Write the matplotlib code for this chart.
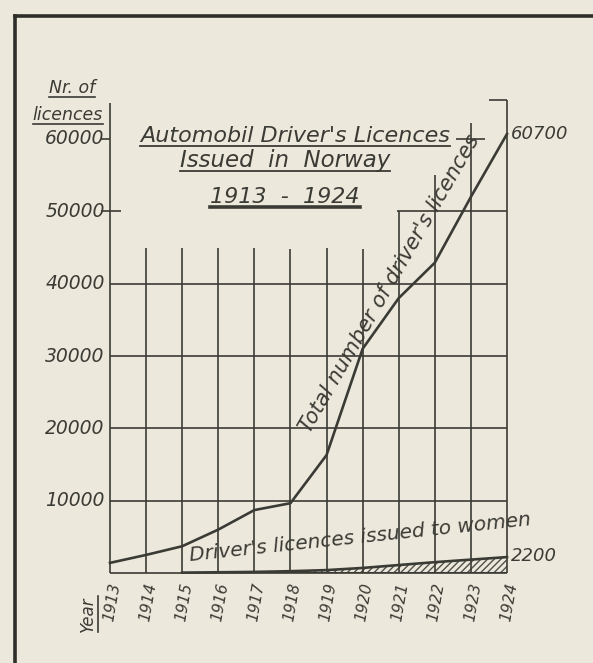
import matplotlib
matplotlib.use('Agg')
import matplotlib.pyplot as plt
from matplotlib.lines import Line2D
import numpy as np

# ---------- data ----------
years = [1913, 1914, 1915, 1916, 1917, 1918, 1919, 1920, 1921, 1922, 1923, 1924]
total = [1400, 2500, 3700, 6000, 8700, 9650, 16300, 31000, 38000, 42900, 52000, 60700]
women_years = [1915, 1916, 1917, 1918, 1919, 1920, 1921, 1922, 1923, 1924]
women = [50, 100, 150, 250, 400, 700, 1100, 1500, 1850, 2200]
ytick_vals = [10000, 20000, 30000, 40000, 50000, 60000]
ytick_labels = ['10000', '20000', '30000', '40000', '50000', '60000']

PAPER = '#ede8dc'
INK = '#3b3b35'
W, H = 593, 663

fig = plt.figure(figsize=(W / 100, H / 100), dpi=100, facecolor=PAPER)
# axes: 1913 -> x=110px, 1924 -> x=507px, 0 -> y=573px, 60000 -> y=139px
ax = fig.add_axes([110 / W, (H - 573) / H, 397 / W, 434 / H])
ax.set_xlim(1913, 1924)
ax.set_ylim(0, 60000)
ax.set_facecolor('none')
for s in ax.spines.values():
    s.set_visible(False)
ax.set_xticks([])
ax.set_yticks([])

kw = dict(color=INK, lw=1.2, clip_on=False, solid_capstyle='butt')

########## GRID ##########
for v in ytick_vals[:4]:
    ax.plot([1913, 1924], [v, v], **kw)
ax.plot([1920.95, 1924], [50000, 50000], **kw)
ax.plot([1922.6, 1923.4], [60000, 60000], **kw)
ax.plot([1912.75, 1913.3], [50000, 50000], **kw)
ax.plot([1912.75, 1913.0], [60000, 60000], **kw)
ax.plot([1913, 1924], [0, 0], **kw)
ax.plot([1913, 1913], [0, 65000], **kw)
tops = {1914: 45000, 1915: 45000, 1916: 45000, 1917: 45000, 1918: 44800,
        1919: 45000, 1920: 44800, 1921: 50000, 1922: 55000, 1923: 62200, 1924: 65400}
for yr, t in tops.items():
    ax.plot([yr, yr], [0, t], **kw)
ax.plot([1923.5, 1924], [65400, 65400], **kw)

########## SERIES ##########
ax.plot(years, total, color=INK, lw=1.9, clip_on=False)
ax.fill_between(women_years, 0, women, facecolor='none', edgecolor='#4f4f49',
                hatch='/////', linewidth=0)
ax.plot(women_years, women, color=INK, lw=1.9, clip_on=False)
ax.plot([1915, 1924], [0, 0], color=INK, lw=2.2)

########## TEXT ##########
tf = dict(color=INK, fontstyle='italic', family='DejaVu Sans')
for v, lab in zip(ytick_vals, ytick_labels):
    ax.text(1912.85, v, lab, ha='right', va='center', fontsize=13.5, **tf)
ax.text(1924.12, 60700, '60700', ha='left', va='center', fontsize=13, **tf)
ax.text(1924.12, 2300, '2200', ha='left', va='center', fontsize=13, **tf)

for yr in years:
    ax.text(yr + 0.05, -1200, str(yr), rotation=80, ha='center', va='top',
            fontsize=11, **tf)

ax.text(1920.75, 40000, "Total number of driver's licences", rotation=60,
        ha='center', va='center', fontsize=15, **tf)
ax.text(1919.93, 4950, "Driver's licences issued to women", rotation=6,
        ha='center', va='center', fontsize=14.5, **tf)

ul_texts = []
ul_texts.append((fig.text(295 / W, 1 - 142 / H, "Automobil Driver's Licences",
                          ha='center', va='baseline', fontsize=16, **tf), 1.3))
ul_texts.append((fig.text(285 / W, 1 - 167 / H, "Issued  in  Norway",
                          ha='center', va='baseline', fontsize=16.5, **tf), 1.3))
ul_texts.append((fig.text(285 / W, 1 - 203 / H, "1913  -  1924",
                          ha='center', va='baseline', fontsize=16, **tf), 2.6))
ul_texts.append((fig.text(72 / W, 1 - 93 / H, "Nr. of",
                          ha='center', va='baseline', fontsize=12.5, **tf), 1.2))
ul_texts.append((fig.text(68 / W, 1 - 120 / H, "licences",
                          ha='center', va='baseline', fontsize=12.5, **tf), 1.2))
year_lab = fig.text(88 / W, 1 - 614 / H, "Year", rotation=90,
                    ha='center', va='center', fontsize=12, **tf)

fig.canvas.draw()
r = fig.canvas.get_renderer()
for t, lw in ul_texts:
    bb = t.get_window_extent(r)
    y = t.get_position()[1] * H - 3.5
    fig.add_artist(Line2D([bb.x0 / W, bb.x1 / W], [y / H, y / H], color=INK, lw=lw,
                          transform=fig.transFigure))
bb = year_lab.get_window_extent(r)
fig.add_artist(Line2D([(bb.x1 + 1) / W] * 2, [bb.y0 / H, bb.y1 / H], color=INK, lw=1.2,
                      transform=fig.transFigure))

########## FRAME ##########
fig.add_artist(Line2D([15 / W, 15 / W], [0, 1 - 16 / H], color='#2f2f2a', lw=2.6,
                      transform=fig.transFigure))
fig.add_artist(Line2D([15 / W, 1], [1 - 16 / H, 1 - 16 / H], color='#2f2f2a', lw=2.6,
                      transform=fig.transFigure))

fig.savefig('out.png', dpi=100, facecolor=PAPER)
